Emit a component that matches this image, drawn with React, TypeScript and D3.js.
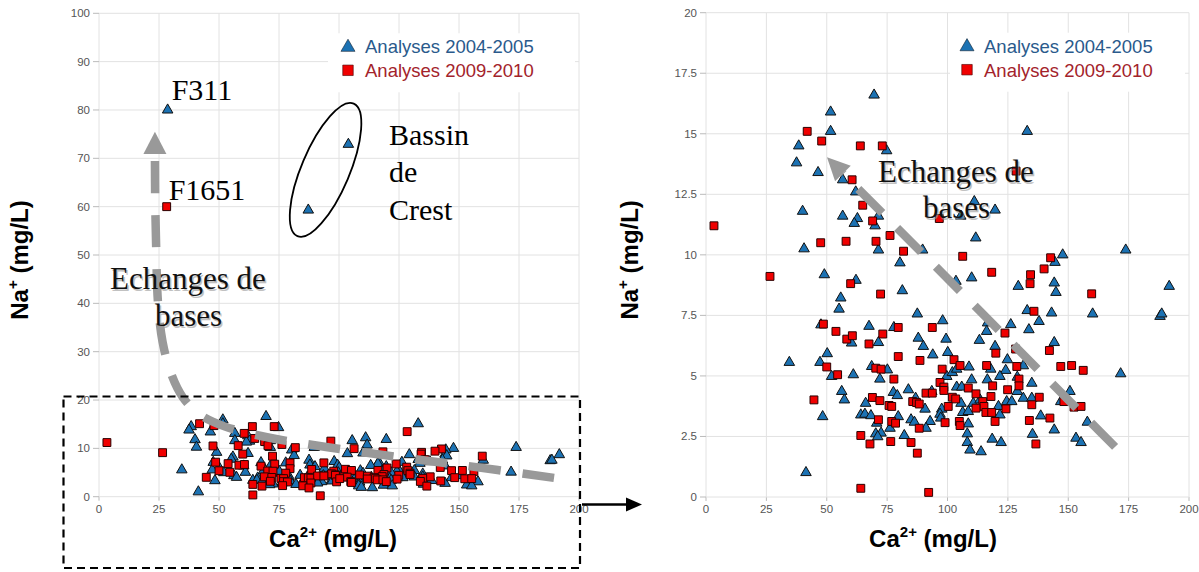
import React from 'react';
import * as d3 from 'd3';

// Ca2+ / Na+ (mg/L)
const caTicks = [0, 25, 50, 75, 100, 125, 150, 175, 200];
const naTicksFull = [0, 10, 20, 30, 40, 50, 60, 70, 80, 90, 100];
const naTicksZoom = [0, 2.5, 5, 7.5, 10, 12.5, 15, 17.5, 20];
const legendLabels = ['Analyses 2004-2005', 'Analyses 2009-2010'];

const analyses2004: [number, number][] = [
  [28.6, 80], [103.9, 72.9], [87.2, 59.3],
  [69.6, 16.6], [51.6, 15.9], [51.6, 15.1], [38.4, 14.5], [37.5, 13.8], [46.4, 13.4], [56.6, 13.1],
  [62.0, 12.6], [40.0, 11.8], [56.6, 11.6], [62.7, 11.5], [61.4, 11.3], [71.4, 11.6], [70.0, 11.2],
  [74.8, 14.3], [40.6, 10.25], [71.4, 10.2], [89.7, 10.2],
  [133.0, 15.1], [111.1, 12.2], [119.7, 11.85], [105.5, 11.6], [111.7, 10.7], [147.7, 10.0], [173.8, 10.2],
  [80.3, 9.67], [49.0, 9.18], [62.1, 8.95], [81.3, 8.52], [55.8, 8.22], [55.1, 7.76], [87.5, 7.56],
  [98.0, 7.28], [47.6, 7.11], [67.5, 7.05], [77.8, 7.0], [60.3, 6.36], [71.4, 6.38], [87.9, 6.56],
  [90.0, 6.22], [99.4, 6.52], [93.9, 5.87], [100.1, 5.97], [50.2, 5.92], [34.5, 5.56], [47.2, 5.56],
  [68.6, 5.39], [75.1, 5.25], [61.0, 5.05], [52.0, 4.98], [72.0, 4.87], [99.7, 4.98], [56.2, 4.36],
  [83.8, 4.43], [77.6, 4.32], [79.2, 4.19], [57.3, 4.01], [66.1, 3.87], [86.8, 4.08], [93.5, 4.36],
  [90.7, 3.63], [97.6, 3.63], [96.9, 3.42], [97.2, 3.26], [92.8, 3.12], [64.1, 3.39], [65.8, 3.42],
  [68.3, 3.36], [48.3, 3.32], [79.6, 3.32], [84.9, 3.19], [86.3, 3.09], [70.7, 3.05], [76.2, 2.84],
  [91.1, 2.84], [70.3, 2.61], [72.5, 2.64], [71.1, 2.49], [82.1, 2.54], [41.4, 1.01],
  [144.5, 9.69], [110.0, 9.05], [103.5, 8.91], [129.3, 8.7], [144.2, 8.84], [144.9, 8.45], [191.8, 8.7],
  [133.0, 7.7], [143.1, 7.6], [160.1, 7.56], [188.0, 7.46], [188.7, 7.56], [116.6, 7.19], [126.2, 7.12],
  [137.9, 7.25], [133.7, 6.91], [116.2, 6.84], [113.2, 6.47], [144.2, 6.38], [119.7, 6.22], [124.8, 5.67],
  [131.4, 5.42], [108.9, 5.37], [117.9, 5.28], [124.1, 5.23], [171.7, 5.09], [102.0, 5.14], [103.8, 5.28],
  [110.0, 4.84], [116.5, 4.84], [121.7, 4.98], [128.9, 4.95], [134.9, 4.7], [103.8, 4.54], [105.9, 4.54],
  [128.9, 4.36], [150.7, 4.36], [105.6, 3.87], [110.7, 3.87], [113.5, 4.01], [124.5, 3.94], [126.6, 3.94],
  [131.4, 4.08], [134.9, 4.08], [121.1, 3.74], [106.3, 3.49], [108.6, 3.53], [121.7, 3.39], [138.6, 3.35],
  [144.2, 2.77], [146.9, 3.94], [157.9, 3.09], [108.6, 3.02], [108.2, 2.61], [108.2, 2.25], [109.3, 1.94],
  [113.9, 1.87], [118.5, 2.39], [122.2, 2.25], [135.2, 2.59], [153.2, 2.43], [155.3, 2.25]
];

const analyses2009: [number, number][] = [
  [28.2, 60],
  [41.9, 15.1], [47.9, 14.7], [63.9, 14.5], [73.0, 14.5], [60.5, 13.1], [64.9, 12.05], [69.0, 11.4],
  [3.3, 11.2], [76.2, 10.8], [47.5, 10.5], [58.0, 10.56], [70.4, 10.56], [81.8, 10.15], [96.6, 11.5],
  [128.4, 13.46], [142.7, 9.88], [106.3, 9.94],
  [26.5, 9.11], [59.9, 8.81], [72.3, 8.38], [48.6, 7.14], [79.6, 7.0], [93.7, 7.0], [53.8, 6.84],
  [58.3, 6.52], [60.6, 6.66], [67.5, 6.32], [73.2, 6.73], [79.6, 5.8], [88.6, 5.64], [50.0, 5.37],
  [70.3, 5.32], [72.5, 5.28], [54.5, 5.05], [77.8, 4.87], [97.8, 5.28], [96.9, 4.73], [98.5, 4.54],
  [98.5, 4.4], [68.9, 4.11], [72.0, 3.98], [44.7, 4.01], [75.8, 3.78], [76.9, 3.74], [85.6, 3.94],
  [87.2, 3.9], [88.3, 3.84], [91.1, 4.29], [93.7, 4.29], [99.0, 3.07], [71.4, 3.19], [76.9, 3.12],
  [78.5, 3.05], [88.3, 2.84], [64.1, 2.54], [67.9, 2.19], [76.5, 2.29], [84.9, 2.25], [87.5, 1.81],
  [64.1, 0.36], [92.2, 0.19],
  [118.3, 9.28], [134.4, 9.18], [140.0, 9.42], [134.2, 8.81], [159.7, 8.39], [135.8, 7.67], [123.8, 6.77],
  [120.0, 5.94], [142.2, 6.05], [128.2, 6.11], [128.7, 5.39], [102.7, 5.67], [105.2, 5.43], [116.2, 5.43],
  [146.9, 5.39], [151.4, 5.43], [156.2, 5.23], [129.6, 4.87], [129.6, 4.59], [108.6, 4.5], [118.7, 4.59],
  [124.9, 4.43], [102.0, 4.12], [103.4, 4.05], [111.8, 4.26], [114.6, 3.94], [118.0, 4.15], [115.1, 3.74],
  [138.0, 4.12], [134.9, 3.81], [124.2, 3.64], [100.3, 3.74], [111.8, 3.67], [115.9, 3.49], [118.3, 3.49],
  [142.4, 3.26], [133.9, 3.16], [148.2, 3.94], [152.4, 3.71], [155.3, 3.74], [104.9, 3.12], [105.2, 2.95],
  [119.7, 3.12], [136.6, 2.19]
];

// dashed "Echanges de bases" trend paths (data coords, drawn from tail to head)
const trendFull: [number, number][] = [
  [189.6, 3.9], [150, 6.6], [110, 9.2], [70, 12.3], [52, 14.6], [42, 17.0], [35, 20.5],
  [30, 25.5], [26.5, 32], [24.6, 40], [23.8, 52], [23.4, 62], [23.3, 70.9]
];
const trendFullTip: [number, number] = [23.3, 75.5];
const trendZoom: [number, number][] = [[169.4, 2.07], [56.7, 13.36]];
const trendZoomTip: [number, number] = [50.1, 14.03];

const SANS = 'Liberation Sans, Arial, sans-serif';
const SERIF = 'Liberation Serif, Times New Roman, serif';
const BLUE = '#1c72b3';
const RED = '#f00000';
const GRID = '#e2e2e2';

const tri = d3.symbol(d3.symbolTriangle, 48)() as string;
const sq = d3.symbol(d3.symbolSquare, 62)() as string;
const triLeg = d3.symbol(d3.symbolTriangle, 85)() as string;
const sqLeg = d3.symbol(d3.symbolSquare, 110)() as string;

const arrowHead = (base: [number, number], tip: [number, number], half: number) => {
  const dx = tip[0] - base[0];
  const dy = tip[1] - base[1];
  const len = Math.hypot(dx, dy);
  const nx = -dy / len, ny = dx / len;
  return `M${tip[0]},${tip[1]}L${base[0] + nx * half},${base[1] + ny * half}L${base[0] - nx * half},${base[1] - ny * half}Z`;
};

interface PanelProps {
  left: number;
  right: number;
  top: number;
  bottom: number;
  yMax: number;
  yTicks: number[];
  legendX: number;
  legendBox: [number, number];
  yTitleX: number;
  xTitleX: number;
  trend: [number, number][];
  tip: [number, number];
  dash: string;
  headHalf: number;
  children?: (x: d3.ScaleLinear<number, number>, y: d3.ScaleLinear<number, number>) => React.ReactNode;
}

const Shadowed = ({ x, y, children, anchor }: { x: number; y: number; children: string; anchor?: string }) => (
  <g fontFamily={SERIF} fontSize={31} textAnchor={anchor || 'start'}>
    <text x={x + 1.5} y={y + 1.5} fill="#999" opacity={0.6}>{children}</text>
    <text x={x} y={y} fill="#111">{children}</text>
  </g>
);

const Panel = (p: PanelProps) => {
  const x = d3.scaleLinear().domain([0, 200]).range([p.left, p.right]);
  const y = d3.scaleLinear().domain([0, p.yMax]).range([p.bottom, p.top]);
  const inView = (d: [number, number]) => d[1] <= p.yMax;
  const line = d3.line<[number, number]>()
    .x(d => x(d[0]))
    .y(d => y(d[1]))
    .curve(d3.curveCatmullRom);
  const last = p.trend[p.trend.length - 1];

  return (
    <g>
      {/* grid */}
      {caTicks.map(t => (
        <g key={'gx' + t}>
          <line x1={x(t)} x2={x(t)} y1={p.top} y2={p.bottom} stroke={GRID} />
          <line x1={x(t)} x2={x(t)} y1={p.bottom} y2={p.bottom + 4} stroke="#bbb" />
          <text x={x(t)} y={p.bottom + 16} textAnchor="middle" fontFamily={SANS} fontSize={11.5} fill="#555">{t}</text>
        </g>
      ))}
      {p.yTicks.map(t => (
        <g key={'gy' + t}>
          <line x1={p.left} x2={p.right} y1={y(t)} y2={y(t)} stroke={GRID} />
          <line x1={p.left - 6} x2={p.left} y1={y(t)} y2={y(t)} stroke="#bbb" />
          <text x={p.left - 9} y={y(t) + 4} textAnchor="end" fontFamily={SANS} fontSize={11.5} fill="#555">{t}</text>
        </g>
      ))}

      {/* legend */}
      <rect x={p.legendBox[0]} y={p.top + 20} width={p.legendBox[1] - p.legendBox[0]} height={59} fill="#fff" />
      <path d={triLeg} transform={`translate(${p.legendX},${p.top + 34})`} fill={BLUE} stroke="#123" strokeWidth={0.6} />
      <path d={sqLeg} transform={`translate(${p.legendX},${p.top + 57})`} fill={RED} stroke="#400" strokeWidth={0.6} />
      <text x={p.legendX + 17} y={p.top + 40} fontFamily={SANS} fontSize={18.5} fill="#2a5a8c">{legendLabels[0]}</text>
      <text x={p.legendX + 17} y={p.top + 64} fontFamily={SANS} fontSize={18.5} fill="#a3232b">{legendLabels[1]}</text>

      {/* points */}
      {analyses2004.filter(inView).map((d, i) => (
        <path key={'t' + i} d={tri} transform={`translate(${x(d[0])},${y(d[1])})`} fill={BLUE} stroke="#111" strokeWidth={1} />
      ))}
      {analyses2009.filter(inView).map((d, i) => (
        <path key={'s' + i} d={sq} transform={`translate(${x(d[0])},${y(d[1])})`} fill={RED} stroke="#2a0000" strokeWidth={1} />
      ))}

      {/* trend arrow */}
      <path d={line(p.trend) as string} fill="none" stroke="#999" strokeWidth={8.5} strokeDasharray={p.dash} />
      <path d={arrowHead([x(last[0]), y(last[1])], [x(p.tip[0]), y(p.tip[1])], p.headHalf)} fill="#999" />

      {p.children && p.children(x, y)}

      {/* axis titles */}
      <text x={p.xTitleX} y={p.bottom + 50} textAnchor="middle" fontFamily={SANS} fontWeight="bold" fontSize={24} fill="#000">
        Ca<tspan fontSize={15} dy={-10}>2+</tspan><tspan dy={10}> (mg/L)</tspan>
      </text>
      <text transform={`translate(${p.yTitleX},${(p.top + p.bottom) / 2 + 5}) rotate(-90)`} textAnchor="middle"
        fontFamily={SANS} fontWeight="bold" fontSize={24} fill="#000">
        Na<tspan fontSize={15} dy={-10}>+</tspan><tspan dy={10}> (mg/L)</tspan>
      </text>
    </g>
  );
};

export default function App() {
  return (
    <svg width={1199} height={572} style={{ position: 'absolute', left: 0, top: 0, background: '#fff' }}>
      <Panel left={99} right={579} top={13.3} bottom={496.7} yMax={100} yTicks={naTicksFull}
        legendX={348} legendBox={[328, 575]} yTitleX={28} xTitleX={333}
        trend={trendFull} tip={trendFullTip} dash="32 22" headHalf={11.5}>
        {(x, y) => (
          <g>
            <text x={x(28.6) + 4} y={y(80) - 10} fontFamily={SERIF} fontSize={30} fill="#000">F311</text>
            <text x={x(28.2) + 2} y={y(60) - 7} fontFamily={SERIF} fontSize={30} fill="#000">F1651</text>
            <ellipse cx={0} cy={0} rx={72} ry={24} fill="none" stroke="#000" strokeWidth={1.8}
              transform={`translate(${x(94.4)},${y(67.6)}) rotate(-67)`} />
            <g fontFamily={SERIF} fontSize={30} fill="#000">
              <text x={389} y={145}>Bassin</text>
              <text x={389} y={182}>de</text>
              <text x={389} y={220}>Crest</text>
            </g>
            <Shadowed x={110} y={289}>Echanges de</Shadowed>
            <Shadowed x={155} y={326}>bases</Shadowed>
          </g>
        )}
      </Panel>
      <Panel left={706} right={1189} top={12.7} bottom={497} yMax={20} yTicks={naTicksZoom}
        legendX={967} legendBox={[950, 1185]} yTitleX={638} xTitleX={933}
        trend={trendZoom} tip={trendZoomTip} dash="34 21" headHalf={11}>
        {() => (
          <g>
            <Shadowed x={878} y={182}>Echanges de</Shadowed>
            <Shadowed x={923} y={218}>bases</Shadowed>
          </g>
        )}
      </Panel>

      {/* zoom frame and link arrow */}
      <rect x={63.5} y={396.5} width={516.5} height={171.5} fill="none" stroke="#000" strokeWidth={2.2} strokeDasharray="8 5" />
      <line x1={582} x2={628} y1={504.5} y2={504.5} stroke="#000" strokeWidth={2.5} />
      <path d={arrowHead([626, 504.5], [642, 504.5], 7)} fill="#000" />
    </svg>
  );
}
